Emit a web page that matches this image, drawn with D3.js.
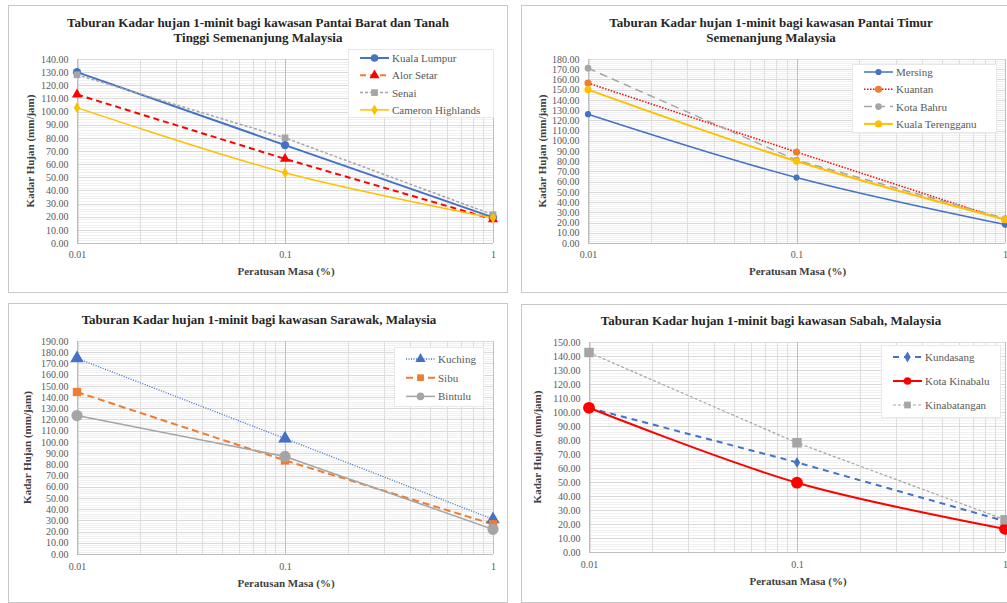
<!DOCTYPE html>
<meta charset="utf-8">
<style>
  body { margin: 0; background: #fff; }
  svg, svg text { font-family: "Liberation Serif", "Times New Roman", Times, serif; }
  .frame { fill: #fff; stroke: #c8c8c8; }
  .tick text { fill: #595959; font-size: 10px; }
  .title { font-weight: bold; font-size: 13px; fill: #262626; text-anchor: middle; }
  .axtitle { font-size: 11px; fill: #404040; text-anchor: middle; font-weight: bold; }
  .legtext { font-size: 11px; fill: #595959; }
</style>
<svg id="chart" width="1007" height="603"></svg>
<script src="https://d3js.org/d3.v7.min.js"></script>
<script>
// x values (percentage of time) and their labels
var percentTime = [0.01, 0.1, 1];
var xTickLabels = ["0.01", "0.1", "1"];

// Pantai Barat dan Tanah Tinggi
var baratNames = ["Kuala Lumpur", "Alor Setar", "Senai", "Cameron Highlands"];
var kualaLumpur = [130, 74.5, 19.5];
var alorSetar = [113, 64, 18];
var senai = [128, 80, 21.5];
var cameronHighlands = [103, 53.5, 19];

// Pantai Timur
var timurNames = ["Mersing", "Kuantan", "Kota Bahru", "Kuala Terengganu"];
var mersing = [126, 64, 18];
var kuantan = [156.5, 89, 22.5];
var kotaBahru = [171, 81, 24];
var kualaTerengganu = [150, 80, 23];

// Sarawak
var sarawakNames = ["Kuching", "Sibu", "Bintulu"];
var kuching = [174.5, 103, 31];
var sibu = [144.5, 83.5, 26.5];
var bintulu = [123.5, 87, 22];

// Sabah
var sabahNames = ["Kundasang", "Kota Kinabalu", "Kinabatangan"];
var kundasang = [103, 64, 22];
var kotaKinabalu = [103, 49.5, 16.5];
var kinabatangan = [142.5, 78, 23];

var yMaxes = [140, 180, 190, 150];

var blue = "#4472C4", red = "#FF0000", grey = "#A5A5A5", gold = "#FFC000", orange = "#ED7D31";

var panels = [
  { box: [8, 5, 499, 287], px: [77, 493], py: [243, 59], yMax: yMaxes[0], cx: 258,
    title: ["Taburan Kadar hujan 1-minit bagi kawasan Pantai Barat dan Tanah", "Tinggi Semenanjung Malaysia"],
    titleY: 27, xTickY: 260, xTitleY: 275, yTitleX: 30,
    legend: { x: 348, y: 49, w: 145, h: 68, y0: 58, step: 17.3 },
    series: [
      { name: baratNames[0], v: kualaLumpur, stroke: blue, w: 2, dash: null, sym: d3.symbolCircle, size: 55, fill: blue },
      { name: baratNames[1], v: alorSetar, stroke: red, w: 2, dash: "6,4", sym: d3.symbolTriangle, size: 45, fill: red, legStroke: orange },
      { name: baratNames[2], v: senai, stroke: grey, w: 1.5, dash: "3,2", sym: d3.symbolSquare, size: 45, fill: grey },
      { name: baratNames[3], v: cameronHighlands, stroke: gold, w: 1.5, dash: null, sym: d3.symbolDiamond, size: 35, fill: gold, smooth: true }
    ] },
  { box: [521, 5, 500, 287], px: [588, 1005], py: [243, 59], yMax: yMaxes[1], cx: 771,
    title: ["Taburan Kadar hujan 1-minit bagi kawasan Pantai Timur", "Semenanjung Malaysia"],
    titleY: 27, xTickY: 260, xTitleY: 275, yTitleX: 542,
    legend: { x: 852, y: 64, w: 144, h: 68, y0: 72, step: 17.3 },
    series: [
      { name: timurNames[0], v: mersing, stroke: blue, w: 1.5, dash: null, sym: d3.symbolCircle, size: 30, fill: blue, smooth: true },
      { name: timurNames[1], v: kuantan, stroke: red, w: 1.5, dash: "1.5,1.5", sym: d3.symbolCircle, size: 40, fill: orange },
      { name: timurNames[2], v: kotaBahru, stroke: grey, w: 1.5, dash: "8,5", sym: d3.symbolCircle, size: 35, fill: grey },
      { name: timurNames[3], v: kualaTerengganu, stroke: gold, w: 2, dash: null, sym: d3.symbolCircle, size: 40, fill: gold, smooth: true }
    ] },
  { box: [8, 303, 499, 299], px: [77, 493], py: [554, 341], yMax: yMaxes[2], cx: 259,
    title: ["Taburan Kadar hujan 1-minit bagi kawasan Sarawak, Malaysia"],
    titleY: 324, xTickY: 572, xTitleY: 587, yTitleX: 27,
    legend: { x: 394, y: 347, w: 89, h: 59, y0: 359, step: 18.7 },
    series: [
      { name: sarawakNames[0], v: kuching, stroke: blue, w: 1.3, dash: "1,1.5", sym: d3.symbolTriangle, size: 80, fill: blue },
      { name: sarawakNames[1], v: sibu, stroke: orange, w: 2, dash: "7,4", sym: d3.symbolSquare, size: 70, fill: orange },
      { name: sarawakNames[2], v: bintulu, stroke: grey, w: 1.5, dash: null, sym: d3.symbolCircle, size: 100, fill: grey }
    ] },
  { box: [521, 304, 500, 298], px: [589, 1005], py: [552, 342], yMax: yMaxes[3], cx: 771,
    title: ["Taburan Kadar hujan 1-minit bagi kawasan Sabah, Malaysia"],
    titleY: 325, xTickY: 570, xTitleY: 585, yTitleX: 537,
    legend: { x: 881, y: 345, w: 119, h: 72, y0: 357, step: 24 },
    series: [
      { name: sabahNames[0], v: kundasang, stroke: blue, w: 2, dash: "6,5", sym: d3.symbolDiamond, size: 35, fill: blue },
      { name: sabahNames[1], v: kotaKinabalu, stroke: red, w: 2, dash: null, sym: d3.symbolCircle, size: 110, fill: red, smooth: true },
      { name: sabahNames[2], v: kinabatangan, stroke: grey, w: 1.2, dash: "3,2", sym: d3.symbolSquare, size: 90, fill: grey }
    ] }
];

var svg = d3.select("#chart");
svg.append("rect").attr("width", 1007).attr("height", 603).attr("fill", "#fff");

panels.forEach(function(p) {
  var g = svg.append("g");
  g.append("rect").attr("class", "frame")
    .attr("x", p.box[0] + 0.5).attr("y", p.box[1] + 0.5)
    .attr("width", p.box[2]).attr("height", p.box[3]);

  var x = d3.scaleLog().domain([0.01, 1]).range(p.px);
  var y = d3.scaleLinear().domain([0, p.yMax]).range(p.py);

  // minor horizontal grid
  g.append("g").selectAll("line").data(d3.range(0, p.yMax, 2)).join("line")
    .attr("x1", p.px[0]).attr("x2", p.px[1])
    .attr("y1", function(d) { return Math.round(y(d)) + 0.5; })
    .attr("y2", function(d) { return Math.round(y(d)) + 0.5; })
    .attr("stroke", "#f0f0f0");
  // minor vertical grid (log)
  var minors = [];
  [0.01, 0.1].forEach(function(dec) { d3.range(2, 10).forEach(function(k) { minors.push(dec * k); }); });
  g.append("g").selectAll("line").data(minors).join("line")
    .attr("x1", function(d) { return Math.round(x(d)) + 0.5; })
    .attr("x2", function(d) { return Math.round(x(d)) + 0.5; })
    .attr("y1", p.py[0]).attr("y2", p.py[1])
    .attr("stroke", "#dedede");
  // major horizontal grid
  g.append("g").selectAll("line").data(d3.range(10, p.yMax + 1, 10)).join("line")
    .attr("x1", p.px[0]).attr("x2", p.px[1])
    .attr("y1", function(d) { return Math.round(y(d)) + 0.5; })
    .attr("y2", function(d) { return Math.round(y(d)) + 0.5; })
    .attr("stroke", "#d9d9d9");
  // major vertical grid
  g.append("g").selectAll("line").data(percentTime).join("line")
    .attr("x1", function(d) { return Math.round(x(d)) + 0.5; })
    .attr("x2", function(d) { return Math.round(x(d)) + 0.5; })
    .attr("y1", p.py[0]).attr("y2", p.py[1])
    .attr("stroke", "#bfbfbf");

  // axes
  var yAxis = d3.axisLeft(y).tickValues(d3.range(0, p.yMax + 1, 10))
    .tickFormat(d3.format(".2f")).tickSize(0).tickPadding(9);
  g.append("g").attr("transform", "translate(" + (Math.round(p.px[0]) + 0.5) + ",0)").call(yAxis)
    .attr("font-family", null)
    .call(function(a) { a.select(".domain").attr("stroke", "#bfbfbf"); });
  var xAxis = d3.axisBottom(x).tickValues(percentTime)
    .tickFormat(function(d, i) { return xTickLabels[i]; }).tickSize(0).tickPadding(0);
  g.append("g").attr("transform", "translate(0," + (p.xTickY - 9) + ")").call(xAxis)
    .attr("font-family", null)
    .call(function(a) { a.select(".domain").remove(); });
  g.append("line").attr("x1", p.px[0]).attr("x2", p.px[1])
    .attr("y1", Math.round(p.py[0]) + 0.5).attr("y2", Math.round(p.py[0]) + 0.5)
    .attr("stroke", "#bfbfbf");

  // titles
  p.title.forEach(function(t, i) {
    g.append("text").attr("class", "title").attr("x", p.cx).attr("y", p.titleY + i * 15).text(t);
  });
  g.append("text").attr("class", "axtitle")
    .attr("x", (p.px[0] + p.px[1]) / 2 + 1).attr("y", p.xTitleY).text("Peratusan Masa (%)");
  g.append("text").attr("class", "axtitle")
    .attr("transform", "translate(" + (p.yTitleX + 4) + "," + ((p.py[0] + p.py[1]) / 2) + ") rotate(-90)")
    .text("Kadar Hujan (mm/jam)");

  // series
  p.series.forEach(function(s) {
    var line = d3.line()
      .x(function(d, i) { return x(percentTime[i]); })
      .y(function(d) { return y(d); })
      .curve(s.smooth ? d3.curveCatmullRom : d3.curveLinear);
    g.append("path").datum(s.v).attr("d", line)
      .attr("fill", "none").attr("stroke", s.stroke).attr("stroke-width", s.w)
      .attr("stroke-dasharray", s.dash);
  });
  p.series.forEach(function(s) {
    g.append("g").selectAll("path").data(s.v).join("path")
      .attr("d", d3.symbol().type(s.sym).size(s.size))
      .attr("transform", function(d, i) { return "translate(" + x(percentTime[i]) + "," + y(d) + ")"; })
      .attr("fill", s.fill);
  });

  // legend
  var L = p.legend;
  g.append("rect").attr("x", L.x + 0.5).attr("y", L.y + 0.5).attr("width", L.w).attr("height", L.h)
    .attr("fill", "#fff").attr("stroke", "#e8e8e8");
  p.series.forEach(function(s, i) {
    var ly = L.y0 + i * L.step;
    g.append("line").attr("x1", L.x + 12).attr("x2", L.x + 41).attr("y1", ly).attr("y2", ly)
      .attr("stroke", s.legStroke || s.stroke).attr("stroke-width", s.w).attr("stroke-dasharray", s.dash);
    g.append("path").attr("d", d3.symbol().type(s.sym).size(Math.min(s.size, 45)))
      .attr("transform", "translate(" + (L.x + 26.5) + "," + ly + ")").attr("fill", s.fill);
    g.append("text").attr("class", "legtext").attr("x", L.x + 44).attr("y", ly + 4).text(s.name);
  });
});
</script>
